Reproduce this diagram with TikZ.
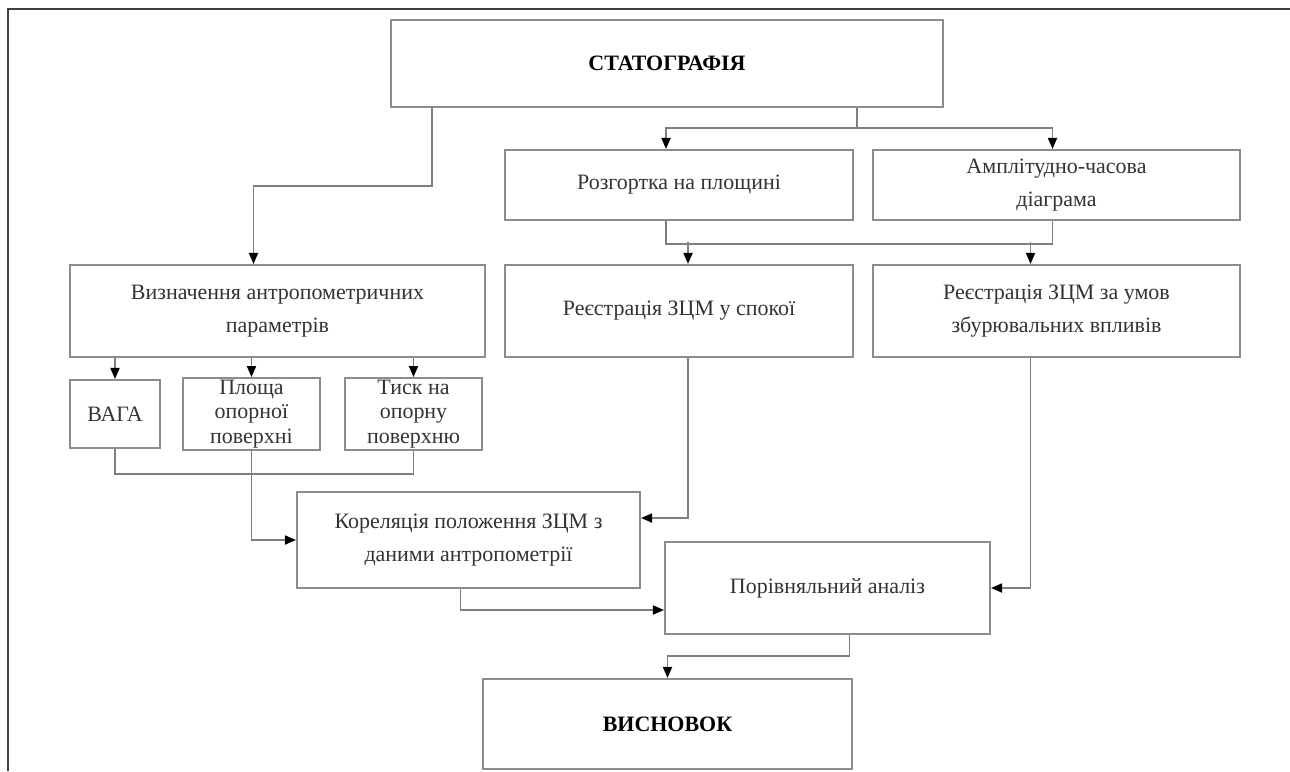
\documentclass[tikz,border=0pt]{standalone}
\usepackage{fontspec}
\setmainfont{Liberation Serif}
\usepackage{xcolor}
\usepackage{tikz}
\usetikzlibrary{calc,arrows.meta,positioning}
\definecolor{linex}{HTML}{7F7F7F}
\definecolor{edgex}{HTML}{8C8C8C}
\definecolor{textx}{HTML}{333333}
\tikzset{
  ln/.style={linex,line width=1pt},
  ar/.style={ln,-{Triangle[length=2.2mm,width=1.8mm,color=black]}},
  box/.style={draw=edgex,line width=1.2pt,fill=white,align=center,inner sep=3pt,
    text=textx,font=\fontsize{12.5}{19}\selectfont},
  head/.style={box,text=black,font=\fontsize{12.5}{19}\selectfont\bfseries}
}

\begin{document}
\begin{tikzpicture}[x=0.02cm,y=-0.02cm]
\useasboundingbox (0,0) rectangle (1290,771);
% frame
\draw[black!75,line width=1.1pt] (8,771) -- (8,9) -- (1290,9);
% boxes
\node[head,minimum width=11.04cm,minimum height=1.74cm] (stat) at (667,63.5) {СТАТОГРАФІЯ};
\node[box,minimum width=6.96cm,minimum height=1.4cm] (razg) at (679,185) {Розгортка на площині};
\node[box,minimum width=7.34cm,minimum height=1.4cm] (ampl) at (1056.5,185) {Амплітудно-часова\\діаграма};
\node[box,minimum width=8.3cm,minimum height=1.84cm] (viz) at (277.5,311) {Визначення антропометричних\\параметрів};
\node[box,minimum width=6.96cm,minimum height=1.84cm] (rest) at (679,311) {Реєстрація ЗЦМ у спокої};
\node[box,minimum width=7.34cm,minimum height=1.84cm] (umov) at (1056.5,311) {Реєстрація ЗЦМ за умов\\збурювальних впливів};
\node[box,minimum width=1.8cm,minimum height=1.36cm] (vaga) at (115,414) {ВАГА};
\node[box,minimum width=2.74cm,minimum height=1.36cm,inner sep=1pt,font=\fontsize{12.5}{14}\selectfont] (plosh) at (251.5,414) {Площа\\опорної\\поверхні};
\node[box,minimum width=2.74cm,minimum height=1.36cm,inner sep=1pt,font=\fontsize{12.5}{14}\selectfont] (tysk) at (413.5,414) {Тиск на\\опорну\\поверхню};
\node[box,minimum width=6.86cm,minimum height=1.92cm] (korel) at (468.5,540) {Кореляція положення ЗЦМ з\\даними антропометрії};
\node[box,minimum width=6.5cm,minimum height=1.84cm] (porivn) at (827.5,588) {Порівняльний аналіз};
\node[head,minimum width=7.38cm,minimum height=1.8cm] (vysn) at (667.5,724) {ВИСНОВОК};
% connectors
\draw[ar] ($(stat.south west)+(42,0)$) -- ++(0,78) -| ($(viz.north)+(-24,0)$);
\draw[ln] ($(stat.south west)+(467,0)$) -- ++(0,20) coordinate (t1);
\draw[ar] (t1) -| ($(razg.north)+(-13,0)$);
\draw[ar] (t1) -| ($(ampl.north)+(-4,0)$);
\draw[ln] ($(razg.south)+(-13,0)$) -- ++(0,23) -| ($(ampl.south)+(-4,0)$);
\draw[ar] ($(rest.north)+(9,-22)$) -- ($(rest.north)+(9,0)$);
\draw[ar] ($(umov.north)+(-26,-22)$) -- ($(umov.north)+(-26,0)$);
\foreach \b in {vaga,plosh,tysk}
  \draw[ar] (viz.south -| \b.north) -- (\b.north);
\draw[ln] (vaga.south) -- ++(0,25) -| (tysk.south);
\draw[ar] (plosh.south) |- (korel.west);
\draw[ar] ($(rest.south)+(9,0)$) |- ($(korel.east)+(0,-22)$);
\draw[ar] ($(korel.south)+(-8,0)$) |- ($(porivn.west)+(0,22)$);
\draw[ar] ($(umov.south)+(-26,0)$) |- (porivn.east);
\draw[ar] ($(porivn.south)+(22,0)$) -- ++(0,21) -| (vysn.north);
\end{tikzpicture}
\end{document}
